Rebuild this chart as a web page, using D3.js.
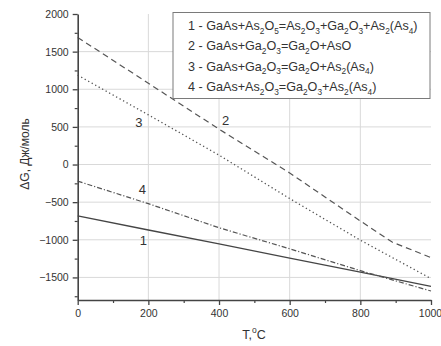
<!DOCTYPE html>
<html>
<head>
<meta charset="utf-8">
<script src="https://cdn.jsdelivr.net/npm/d3@7"></script>
<style>
  html, body { margin: 0; padding: 0; background: #fff; }
  svg { display: block; font-family: "Liberation Sans", Arial, sans-serif; }
</style>
</head>
<body>
<svg id="chart" width="441" height="346"></svg>
<script>
// Temperatures (°C) and Gibbs energy change (J/mol) for four reactions
const temps = [0, 200, 400, 600, 800, 1000];
const temps2 = [0, 200, 400, 600, 800, 890, 1000];
const dg1 = [-683, -870, -1055, -1245, -1430, -1618];
const dg2 = [1688, 1080, 470, -112, -750, -1030, -1237];
const dg3 = [1187, 660, 125, -452, -1005, -1516];
const dg4 = [-221, -520, -840, -1120, -1410, -1681];

const xTicks = [0, 200, 400, 600, 800, 1000];
const xMinor = [100, 300, 500, 700, 900];
const yTicks = [-1500, -1000, -500, 0, 500, 1000, 1500, 2000];
const yMinor = [-1750, -1250, -750, -250, 250, 750, 1250, 1750];
const xGrid = [200, 400, 600, 800];
const yGrid = [-1500, -1000, -500, 0, 500, 1000, 1500];

// Legend entries: each part is [text, isSubscript]
const legendItems = [
  [["1 - GaAs+As",0],["2",1],["O",0],["5",1],["=As",0],["2",1],["O",0],["3",1],["+Ga",0],["2",1],["O",0],["3",1],["+As",0],["2",1],["(As",0],["4",1],[")",0]],
  [["2 - GaAs+Ga",0],["2",1],["O",0],["3",1],["=Ga",0],["2",1],["O+AsO",0]],
  [["3 - GaAs+Ga",0],["2",1],["O",0],["3",1],["=Ga",0],["2",1],["O+As",0],["2",1],["(As",0],["4",1],[")",0]],
  [["4 - GaAs+As",0],["2",1],["O",0],["3",1],["=Ga",0],["2",1],["O",0],["3",1],["+As",0],["2",1],["(As",0],["4",1],[")",0]]
];

// Curve number labels placed at a temperature / value
const curveLabels = [
  {text: "1", t: 186, v: -1010},
  {text: "2", t: 419, v: 580},
  {text: "3", t: 173, v: 560},
  {text: "4", t: 183, v: -335}
];

const svg = d3.select("#chart");
const plotL = 77.7, plotR = 431, plotT = 14, plotB = 300;

const x = d3.scaleLinear().domain([0, 1000]).range([plotL, plotR]);
const y = d3.scaleLinear().domain([-1800, 2000]).range([plotB, plotT]);

// grid
const grid = svg.append("g").attr("stroke", "#d9d9d9").attr("stroke-width", 1);
grid.selectAll("line.gx").data(xGrid).join("line").attr("class", "gx")
  .attr("x1", d => x(d)).attr("x2", d => x(d))
  .attr("y1", plotT).attr("y2", plotB);
grid.selectAll("line.gy").data(yGrid).join("line").attr("class", "gy")
  .attr("x1", plotL).attr("x2", plotR)
  .attr("y1", d => y(d)).attr("y2", d => y(d));

// curves
const line = d3.line().x(d => x(d[0])).y(d => y(d[1]));
const series = [
  {t: temps, v: dg1, dash: null, color: "#454545", w: 1.3},
  {t: temps2, v: dg2, dash: "6,4", color: "#555", w: 1.2},
  {t: temps, v: dg3, dash: "1.3,2.7", color: "#555", w: 1.3},
  {t: temps, v: dg4, dash: "5,2,1.2,2", color: "#555", w: 1.2}
];
series.forEach(s => {
  svg.append("path")
    .datum(s.t.map((t, i) => [t, s.v[i]]))
    .attr("fill", "none")
    .attr("stroke", s.color)
    .attr("stroke-width", s.w)
    .attr("stroke-dasharray", s.dash)
    .attr("d", line);
});

// axes
const plain = d3.format("d");
function styleAxis(g) {
  g.select(".domain").attr("stroke", "#444").attr("stroke-width", 1.6);
  g.selectAll(".tick line").attr("stroke", "#444").attr("stroke-width", 1.3);
  g.selectAll(".tick text").attr("fill", "#333").attr("font-size", "10.5px")
    .attr("font-family", "Liberation Sans, Arial, sans-serif");
}
const xAxis = svg.append("g").attr("transform", `translate(0,${plotB})`)
  .call(d3.axisBottom(x).tickValues(xTicks).tickFormat(plain)
    .tickSize(5).tickSizeOuter(0).tickPadding(5));
styleAxis(xAxis);
// keep the last label inside the page edge
xAxis.selectAll(".tick text").filter(d => d === 1000).attr("dx", "-1");
const xAxisMinor = svg.append("g").attr("transform", `translate(0,${plotB})`)
  .call(d3.axisBottom(x).tickValues(xMinor).tickSize(3).tickFormat(""));
xAxisMinor.select(".domain").remove();
xAxisMinor.selectAll(".tick line").attr("stroke", "#444").attr("stroke-width", 1.2);

const yAxis = svg.append("g").attr("transform", `translate(${plotL},0)`)
  .call(d3.axisLeft(y).tickValues(yTicks).tickFormat(plain)
    .tickSize(5).tickSizeOuter(0).tickPadding(4));
styleAxis(yAxis);
const yAxisMinor = svg.append("g").attr("transform", `translate(${plotL},0)`)
  .call(d3.axisLeft(y).tickValues(yMinor).tickSize(3).tickFormat(""));
yAxisMinor.select(".domain").remove();
yAxisMinor.selectAll(".tick line").attr("stroke", "#444").attr("stroke-width", 1.2);

// axis titles
svg.append("text")
  .attr("transform", "translate(29,154) rotate(-90)")
  .attr("text-anchor", "middle")
  .attr("font-size", "12px").attr("fill", "#333")
  .text("ΔG, Дж/моль");

const xt = svg.append("text")
  .attr("x", 254).attr("y", 339)
  .attr("text-anchor", "middle")
  .attr("font-size", "12.5px").attr("fill", "#333");
xt.append("tspan").text("T,");
xt.append("tspan").attr("dy", -6).attr("font-size", "8.5px").text("o");
xt.append("tspan").attr("dy", 6).text("C");

// curve number labels
svg.selectAll("text.cl").data(curveLabels).join("text").attr("class", "cl")
  .attr("x", d => x(d.t)).attr("y", d => y(d.v))
  .attr("text-anchor", "middle").attr("dominant-baseline", "central")
  .attr("font-size", "13px").attr("fill", "#333")
  .text(d => d.text);

// legend
const lg = svg.append("g");
lg.append("rect")
  .attr("x", 173).attr("y", 12.5).attr("width", 257).attr("height", 86)
  .attr("fill", "#fff").attr("stroke", "#7a7a7a").attr("stroke-width", 1);
legendItems.forEach((parts, i) => {
  const t = lg.append("text")
    .attr("x", 188).attr("y", 30 + i * 20.4)
    .attr("font-size", "12.6px").attr("fill", "#333");
  let shifted = false;
  parts.forEach(([txt, sub]) => {
    const sp = t.append("tspan").text(txt);
    if (sub && !shifted) { sp.attr("dy", 3.5).attr("font-size", "8.3px"); shifted = true; }
    else if (sub) { sp.attr("font-size", "8.3px"); }
    else if (shifted) { sp.attr("dy", -3.5); shifted = false; }
  });
});
</script>
</body>
</html>
